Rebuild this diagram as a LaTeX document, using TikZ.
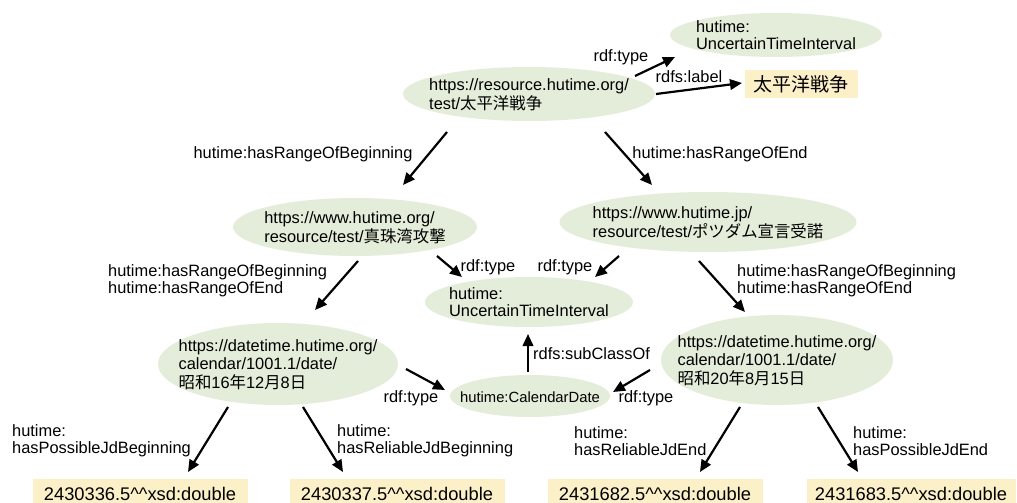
\documentclass[tikz,border=0pt]{standalone}
\usepackage{fontspec}
\setmainfont{Liberation Sans}
\newfontfamily\jp{Noto Sans CJK JP}
\usetikzlibrary{arrows.meta,shapes.geometric}
\definecolor{ellfill}{RGB}{228,237,217}
\definecolor{boxfill}{RGB}{252,240,200}
\newcommand\eltext[1]{\smash{\makebox[0pt]{\raisebox{-7pt}{\begin{tabular}{@{}l@{}}#1\end{tabular}}}}}
\begin{document}
\begin{tikzpicture}[x=1pt,y=-1pt,
  font=\fontsize{16.4}{17}\selectfont,
  ell/.style={ellipse,fill=ellfill,inner sep=0pt,font=\fontsize{16.4}{17.5}\selectfont},
  lit/.style={rectangle,fill=boxfill,inner sep=0pt,font=\fontsize{18.3}{20}\selectfont},
  lab/.style={inner sep=0pt,align=left},
  arr/.style={line width=2.2pt,-{Triangle[length=12pt,width=10.5pt]}}]
\useasboundingbox (0,0) rectangle (1017,503);
\fill[white] (0,0) rectangle (1017,503);
% nodes
\node[ell,minimum width=212pt,minimum height=44pt] (uti1) at (776,35) {\eltext{hutime:\\UncertainTimeInterval}};
\node[rectangle,fill=boxfill,inner sep=0pt,minimum width=113pt,minimum height=28pt,font=\fontsize{19}{20}\selectfont\jp] (lbl) at (801,84) {太平洋戦争};
\node[ell,minimum width=252pt,minimum height=54pt] (main) at (529,94) {\eltext{https://resource.hutime.org/\\test/{\jp 太平洋戦争}}};
\node[ell,minimum width=244pt,minimum height=58pt] (pearl) at (355,227) {\eltext{https://www.hutime.org/\\resource/test/{\jp 真珠湾攻撃}}};
\node[ell,minimum width=297pt,minimum height=60pt] (pots) at (708,222) {\eltext{https://www.hutime.jp/\\resource/test/{\jp ポツダム宣言受諾}}};
\node[ell,minimum width=208pt,minimum height=50pt] (uti2) at (529,302) {\eltext{hutime:\\UncertainTimeInterval}};
\node[ell,minimum width=240pt,minimum height=82pt] (dateL) at (278,364) {\eltext{https://datetime.hutime.org/\\calendar/1001.1/date/\\{\jp 昭和}16{\jp 年}12{\jp 月}8{\jp 日}}};
\node[ell,minimum width=160pt,minimum height=42pt,font=\fontsize{14.8}{16}\selectfont] (cal) at (530,396) {\eltext{hutime:CalendarDate}};
\node[ell,minimum width=232pt,minimum height=90pt] (dateR) at (777,360) {\eltext{https://datetime.hutime.org/\\calendar/1001.1/date/\\{\jp 昭和}20{\jp 年}8{\jp 月}15{\jp 日}}};
\node[lit,minimum width=215pt,minimum height=30pt] (b1) at (140,494) {2430336.5\textasciicircum\textasciicircum xsd:double};
\node[lit,minimum width=215pt,minimum height=30pt] (b2) at (397,494) {2430337.5\textasciicircum\textasciicircum xsd:double};
\node[lit,minimum width=215pt,minimum height=30pt] (b3) at (655,494) {2431682.5\textasciicircum\textasciicircum xsd:double};
\node[lit,minimum width=209pt,minimum height=30pt] (b4) at (911,494) {2431683.5\textasciicircum\textasciicircum xsd:double};
% connectors
\draw[arr] ([shift={(106,-18)}]main.center) -- ([shift={(-101,22)}]uti1.center);
\draw[arr] ([shift={(127,0)}]main.center) -- ([shift={(-59,-1)}]lbl.center);
\draw[arr] ([shift={(-82,38)}]main.center) -- ([shift={(48,-42)}]pearl.center);
\draw[arr] ([shift={(76,38)}]main.center) -- ([shift={(-56,-37)}]pots.center);
\draw[arr] ([shift={(82,29)}]pearl.center) -- ([shift={(-67,-25)}]uti2.center);
\draw[arr] ([shift={(-89,34)}]pots.center) -- ([shift={(66,-25)}]uti2.center);
\draw[arr] ([shift={(3,34)}]pearl.center) -- ([shift={(37,-54)}]dateL.center);
\draw[arr] ([shift={(-9,39)}]pots.center) -- ([shift={(-32,-48)}]dateR.center);
\draw[arr] ([shift={(128,5)}]dateL.center) -- ([shift={(-85,-6)}]cal.center);
\draw[arr] ([shift={(-127,10)}]dateR.center) -- ([shift={(83,-4)}]cal.center);
\draw[arr] ([shift={(-2,-24)}]cal.center) -- ([shift={(-1,32)}]uti2.center);
\draw[arr] ([shift={(-50,43)}]dateL.center) -- ([shift={(48,-22)}]b1.center);
\draw[arr] ([shift={(25,43)}]dateL.center) -- ([shift={(-54,-22)}]b2.center);
\draw[arr] ([shift={(-37,47)}]dateR.center) -- ([shift={(45,-22)}]b3.center);
\draw[arr] ([shift={(41,47)}]dateR.center) -- ([shift={(-53,-22)}]b4.center);
% labels
\node[lab] (l1) at (621,57) {rdf:type};
\node[lab] (l2) at (689,77) {rdfs:label};
\node[lab] (l3) at (303,154) {hutime:hasRangeOfBeginning};
\node[lab] (l4) at (720,154) {hutime:hasRangeOfEnd};
\node[lab,anchor=west] (l5) at (108,281) {hutime:hasRangeOfBeginning\\hutime:hasRangeOfEnd};
\node[lab,anchor=west] (l6) at (737,281) {hutime:hasRangeOfBeginning\\hutime:hasRangeOfEnd};
\node[lab] (l7) at (488,267) {rdf:type};
\node[lab] (l8) at (565,267) {rdf:type};
\node[lab,anchor=west] (l9) at (533,354) {rdfs:subClassOf};
\node[lab] (l10) at (411,398) {rdf:type};
\node[lab] (l11) at (646,398) {rdf:type};
\node[lab,anchor=west] (l12) at (12,441) {hutime:\\hasPossibleJdBeginning};
\node[lab,anchor=west] (l13) at (337,441) {hutime:\\hasReliableJdBeginning};
\node[lab,anchor=west] (l14) at (574,441) {hutime:\\hasReliableJdEnd};
\node[lab,anchor=west] (l15) at (853,441) {hutime:\\hasPossibleJdEnd};
\end{tikzpicture}
\end{document}
